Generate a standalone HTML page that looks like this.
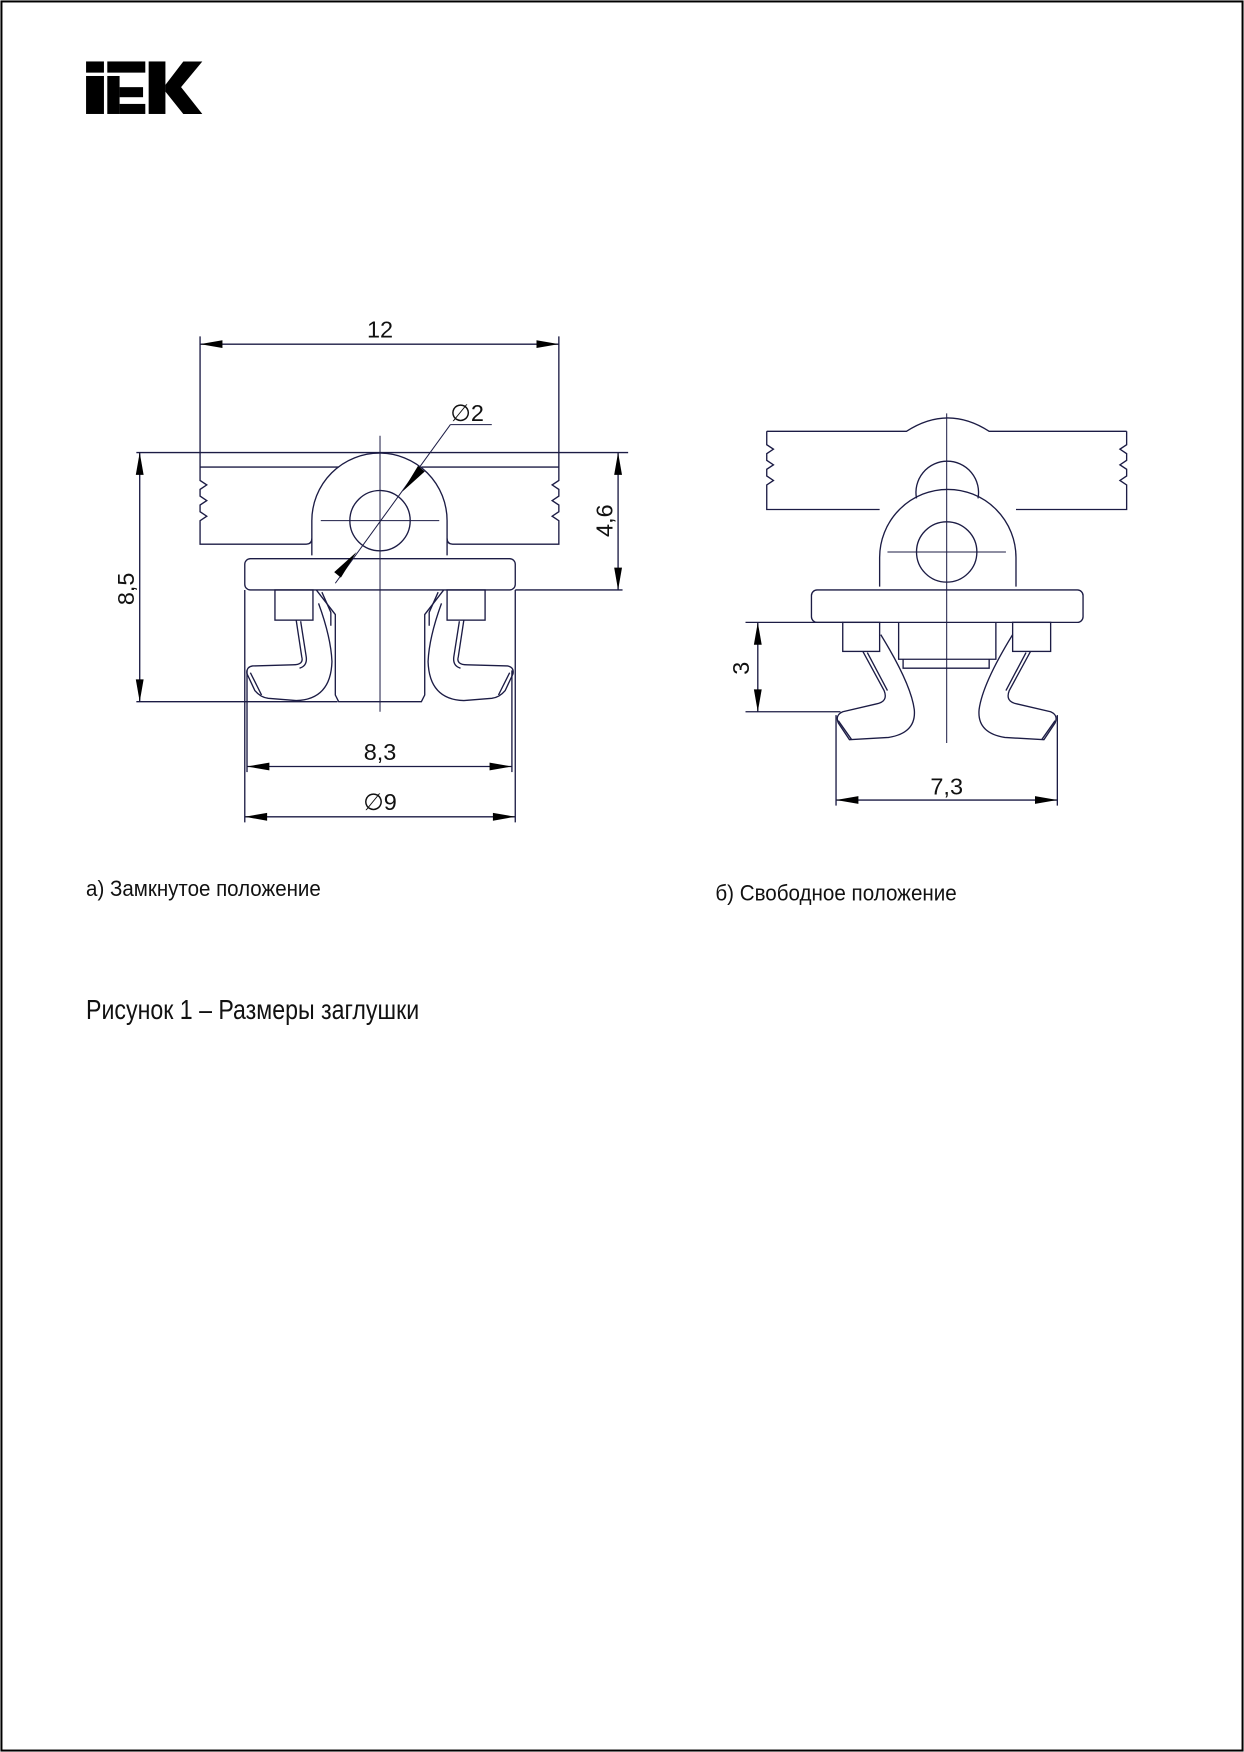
<!DOCTYPE html>
<html><head><meta charset="utf-8"><style>
html,body{margin:0;padding:0;background:#fff;}
svg{display:block;}
</style></head><body>
<svg width="1244" height="1752" viewBox="0 0 1113 1568" preserveAspectRatio="none" xmlns="http://www.w3.org/2000/svg">
<rect x="1.3" y="1.3" width="1110.4" height="1565.4" fill="none" stroke="#000" stroke-width="1.8"/>
<g fill="#000">
<rect x="77" y="55" width="16" height="10"/>
<rect x="77" y="68" width="16" height="34"/>
<rect x="96" y="55" width="34" height="10"/>
<rect x="96" y="68" width="11" height="34"/>
<rect x="107" y="78" width="21" height="9"/>
<rect x="107" y="93" width="23" height="9"/>
<rect x="133" y="55" width="15" height="47"/>
<polygon points="148,76 164,55 181,55 162,78 181,102 164,102 148,82"/>
</g>
<g fill="none" stroke="#1c1c45" stroke-width="1.2">
<line x1="179" y1="308" x2="500" y2="308"/>
<line x1="179" y1="301" x2="179" y2="418"/>
<line x1="500" y1="301" x2="500" y2="418"/>
<line x1="122" y1="405" x2="562" y2="405"/>
<path d="M179,418 H303 M377,418 H500"/>
<path d="M179,418 V430 l6,4 l-6,4 v6 l6,4 l-6,4 v6 l6,4 l-6,4 V487 H274 q5,0 5,-5"/>
<path d="M500,418 V430 l-6,4 l6,4 v6 l-6,4 l6,4 v6 l-6,4 l6,4 V487 H405 q-5,0 -5,-5"/>
<path d="M279,497 V466 A60.5,60.5 0 0 1 400,466 V497"/>
<circle cx="340" cy="466" r="27"/>
<rect x="219" y="500" width="242" height="28" rx="5"/>
<line x1="461" y1="528" x2="557" y2="528"/>
<rect x="246" y="528" width="34" height="27"/>
<rect x="400" y="528" width="34" height="27"/>
<path d="M283,528 L300,550 V622 L303,628 H377 L380,622 V550 L397,528"/>
<path d="M288,530 L296,548 V560"/>
<path d="M392,530 L384,548 V560"/>
<path d="M265,555 L270,588 Q272,595 262,595 L226,596 Q220,597 221,603 L228,618 Q233,624 240,625 L265,627 Q296,626 297,592 Q296,570 285,540"/>
<path d="M269,556 L274,588 Q275,596 268,598"/>
<path d="M224,602 L234,622"/>
<path d="M415,555 L410,588 Q408,595 418,595 L454,596 Q460,597 459,603 L452,618 Q447,624 440,625 L415,627 Q384,626 383,592 Q384,570 395,540"/>
<path d="M411,556 L406,588 Q405,596 412,598"/>
<path d="M456,602 L446,622"/>
<line x1="340" y1="390" x2="340" y2="637" stroke-width="0.9"/>
<line x1="287" y1="466" x2="393" y2="466" stroke-width="0.9"/>
<line x1="300" y1="522" x2="403" y2="380" stroke-width="0.9"/>
<line x1="403" y1="380" x2="440" y2="380" stroke-width="0.9"/>
<line x1="553" y1="405" x2="553" y2="528"/>
<line x1="125" y1="405" x2="125" y2="628"/>
<line x1="122" y1="628" x2="302" y2="628"/>
<line x1="221" y1="686" x2="458" y2="686"/>
<line x1="221" y1="600" x2="221" y2="691"/>
<line x1="458" y1="600" x2="458" y2="691"/>
<line x1="219" y1="731" x2="461" y2="731"/>
<line x1="219" y1="528" x2="219" y2="736"/>
<line x1="461" y1="528" x2="461" y2="736"/>

<path d="M686,386 H811 Q848,362 885,386 H1008"/>
<path d="M686,386 V398 l6,4 l-6,4 v6 l6,4 l-6,4 v6 l6,4 l-6,4 V456 H787"/>
<path d="M1008,386 V398 l-6,4 l6,4 v6 l-6,4 l6,4 v6 l-6,4 l6,4 V456 H909"/>
<path d="M820,446 A28,28 0 1 1 875,446"/>
<path d="M787,525 V499 A61,61 0 0 1 909,499 V525"/>
<circle cx="847" cy="494" r="27"/>
<rect x="726" y="528" width="243" height="29" rx="5"/>
<rect x="754" y="557" width="33" height="26"/>
<rect x="906" y="557" width="34" height="26"/>
<path d="M804,557 V590 H891 V557"/>
<path d="M808,590 V598 H885 V590"/>
<path d="M772,583 L791,618 Q795,628 784,630 L754,637 Q747,640 750,647 L760,662 L795,660 Q820,656 818,635 Q815,612 788,568"/>
<path d="M776,584 L794,618"/>
<path d="M750,645 L762,662"/>
<path d="M922,583 L903,618 Q899,628 910,630 L940,637 Q947,640 944,647 L934,662 L899,660 Q874,656 876,635 Q879,612 906,568"/>
<path d="M918,584 L900,618"/>
<path d="M944,645 L932,662"/>
<line x1="847" y1="370" x2="847" y2="665" stroke-width="0.9"/>
<line x1="794" y1="494" x2="900" y2="494" stroke-width="0.9"/>
<line x1="667" y1="557" x2="754" y2="557"/>
<line x1="667" y1="637" x2="752" y2="637"/>
<line x1="678" y1="557" x2="678" y2="637"/>
<line x1="748" y1="640" x2="748" y2="721"/>
<line x1="946" y1="640" x2="946" y2="721"/>
<line x1="748" y1="716" x2="946" y2="716"/>
</g>
<g fill="#000">
<polygon points="179,308 199,304.5 199,311.5"/>
<polygon points="500,308 480,304.5 480,311.5"/>
<polygon points="553,405 549.5,425 556.5,425"/>
<polygon points="553,528 549.5,508 556.5,508"/>
<polygon points="125,405 121.5,425 128.5,425"/>
<polygon points="125,628 121.5,608 128.5,608"/>
<polygon points="221,686 241,682.5 241,689.5"/>
<polygon points="458,686 438,682.5 438,689.5"/>
<polygon points="219,731 239,727.5 239,734.5"/>
<polygon points="461,731 441,727.5 441,734.5"/>
<polygon points="360,440 374,417 380,422"/>
<polygon points="319,494 305,517 299,512"/>
<polygon points="678,557 674.5,577 681.5,577"/>
<polygon points="678,637 674.5,617 681.5,617"/>
<polygon points="748,716 768,712.5 768,719.5"/>
<polygon points="946,716 926,712.5 926,719.5"/>
</g>
<g font-family="Liberation Sans, sans-serif" fill="#111" font-size="21">
<text x="340" y="302" text-anchor="middle">12</text>
<text x="403" y="377">∅2</text>
<text x="340" y="680" text-anchor="middle">8,3</text>
<text x="340" y="725" text-anchor="middle">∅9</text>
<text transform="translate(548,466) rotate(-90)" text-anchor="middle">4,6</text>
<text transform="translate(120,527) rotate(-90)" text-anchor="middle">8,5</text>
<text transform="translate(670,598) rotate(-90)" text-anchor="middle">3</text>
<text x="847" y="711" text-anchor="middle">7,3</text>
</g>
<g font-family="Liberation Sans, DejaVu Sans, sans-serif" fill="#111">
<text x="77" y="802" font-size="19.5" textLength="210" lengthAdjust="spacingAndGlyphs">а) Замкнутое положение</text>
<text x="640" y="806" font-size="19.5" textLength="216" lengthAdjust="spacingAndGlyphs">б) Свободное положение</text>
<text x="77" y="912" font-size="25" textLength="298" lengthAdjust="spacingAndGlyphs">Рисунок 1 – Размеры заглушки</text>
</g>
</svg>
</body></html>
